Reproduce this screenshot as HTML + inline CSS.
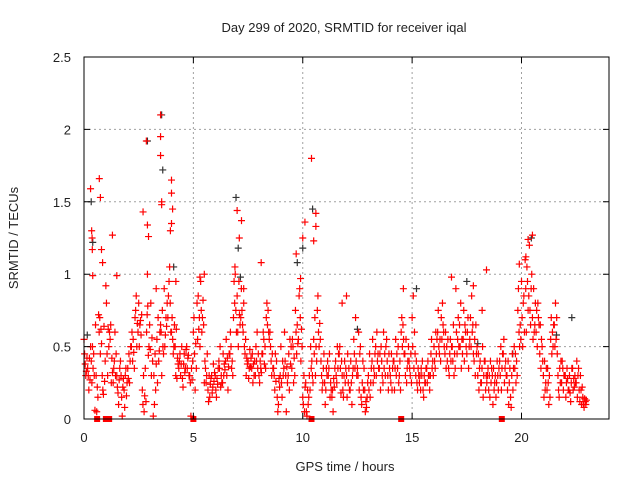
<!DOCTYPE html>
<html><head><meta charset="utf-8"><style>
html,body{margin:0;padding:0;background:#fff;}
svg{display:block;font-family:"Liberation Sans",sans-serif;}
</style></head><body>
<svg id="chart" width="640" height="480" viewBox="0 0 640 480">
<rect width="640" height="480" fill="#fff"/>
<g id="grid"></g>
<g id="black"></g>
<g id="red"></g>
<g id="axes"></g>
<text x="344" y="32" text-anchor="middle" font-size="13" fill="#222">Day 299 of 2020, SRMTID for receiver iqal</text>
<text x="345" y="471" text-anchor="middle" font-size="13" fill="#222">GPS time / hours</text>
<text transform="translate(18,238) rotate(-90)" text-anchor="middle" font-size="13" fill="#222">SRMTID / TECUs</text>
</svg>
<script>
const xTicks=[0,5,10,15,20];
const yTicks=[0,0.5,1,1.5,2,2.5];
const yTickLabels=["0","0.5","1","1.5","2","2.5"];
const binHours=[0,1,2,3,4,5,6,7,8,9,10,11,12,13,14,15,16,17,18,19,20,21,22];
const valsA=[0.55,0.35,0.4,0.06,0.72,0.3, 0.92,0.6,0.25,0.3,0.4,0.2, 0.35,0.5,0.7,0.8,0.2,0.12, 0.65,0.02,0.55,0.65,0.9,0.7, 0.6,0.5,0.35,0.28,0.48,0.3, 0.6,0.8,0.95,0.25,0.2,0.3, 0.3,0.4,0.25,0.55,0.45,0.7, 0.85,0.7,0.5,0.4,0.35,0.3, 0.3,0.45,0.7,0.6,0.35,0.15, 0.5,0.6,0.3,0.35,0.75,0.85, 0.15,0.05,0.2,0.55,0.75,0.4, 0.25,0.3,0.15,0.4,0.45,0.2, 0.3,0.2,0.55,0.35,0.15,0.2, 0.3,0.4,0.5,0.35,0.25,0.55, 0.3,0.4,0.35,0.6,0.45,0.5, 0.7,0.3,0.25,0.2,0.35,0.3, 0.5,0.6,0.7,0.45,0.35,0.5, 0.9,0.65,0.55,0.45,0.7,0.4, 0.3,0.25,0.4,0.2,0.3,0.15, 0.4,0.45,0.3,0.15,0.5,0.75, 0.95,1.1,0.85,0.7,0.6,0.45, 0.3,0.2,0.55,0.65,0.3,0.25, 0.3,0.2,0.35,0.25,0.12,0.1];
const valsB=[0.45,0.3,0.25,0.65,0.6,0.2, 0.8,0.55,0.35,0.22,0.3,0.08, 0.28,0.6,0.75,0.5,0.1,0.6, 0.48,0.3,0.25,0.6,0.5,0.85, 0.7,0.3,0.4,0.22,0.5,0.25, 0.7,0.55,0.75,0.4,0.12,0.18, 0.2,0.35,0.45,0.3,0.6,0.95, 0.6,0.9,0.45,0.28,0.45,0.5, 0.25,0.6,0.8,0.5,0.3,0.05, 0.25,0.4,0.45,0.55,0.6,0.9, 0.1,0.02,0.5,0.45,0.85,0.3, 0.1,0.35,0.2,0.3,0.5,0.15, 0.15,0.4,0.45,0.3,0.1,0.05, 0.2,0.55,0.3,0.45,0.6,0.4, 0.25,0.2,0.5,0.7,0.3,0.4, 0.5,0.4,0.3,0.15,0.25,0.45, 0.4,0.75,0.55,0.6,0.3,0.4, 0.6,0.5,0.75,0.6,0.5,0.55, 0.45,0.35,0.2,0.3,0.1,0.25, 0.3,0.55,0.2,0.08,0.35,0.9, 0.7,0.9,1.2,0.55,0.75,0.65, 0.15,0.35,0.7,0.5,0.2,0.4, 0.15,0.3,0.2,0.4,0.3,0.08];
const valsC=[0.38,0.2,0.5,0.3,0.7,0.17, 0.45,0.65,0.4,0.18,0.15,0.3, 0.45,0.4,0.85,0.65,0.3,0.72, 0.8,0.1,0.7,0.3,0.58,0.95, 0.55,0.62,0.45,0.38,0.35,0.02, 0.45,0.85,0.6,0.35,0.3,0.22, 0.15,0.5,0.3,0.42,0.5,0.8, 0.5,0.75,0.55,0.35,0.25,0.4, 0.4,0.55,0.65,0.4,0.2,0.1, 0.15,0.3,0.2,0.5,0.45,0.7, 0.3,0.2,0.35,0.7,0.6,0.2, 0.2,0.45,0.05,0.25,0.35,0.3, 0.45,0.25,0.35,0.6,0.25,0.12, 0.45,0.25,0.6,0.2,0.35,0.3, 0.45,0.35,0.25,0.5,0.55,0.35, 0.85,0.25,0.2,0.3,0.4,0.55, 0.35,0.5,0.8,0.35,0.45,0.65, 0.45,0.8,0.4,0.7,0.85,0.3, 0.2,0.5,0.3,0.15,0.35,0.4, 0.5,0.25,0.4,0.3,0.45,0.6, 0.5,0.6,0.75,0.9,0.5,0.35, 0.4,0.25,0.45,0.8,0.15,0.35, 0.25,0.18,0.28,0.15,0.2,0.14];
const valsD=[0.3,0.42,0.35,0.05,0.45,0.64, 0.3,0.25,0.6,0.1,0.02,0.35, 0.25,0.55,0.5,0.68,0.05,0.78, 0.3,0.45,0.4,0.75,0.7,1.05, 0.45,0.28,0.3,0.45,0.42,0.35, 0.2,0.62,0.7,0.25,0.15,0.38, 0.28,0.22,0.38,0.2,0.35,1.0, 0.95,0.65,0.3,0.48,0.38,0.6, 0.35,0.38,0.75,0.3,0.45,0.28, 0.4,0.05,0.55,0.25,0.65,0.4, 0.05,0.1,0.4,0.3,0.5,0.25, 0.35,0.15,0.28,0.5,0.18,0.4, 0.25,0.1,0.7,0.2,0.4,0.08, 0.15,0.35,0.4,0.5,0.45,0.2, 0.2,0.55,0.3,0.65,0.25,0.3, 0.35,0.2,0.35,0.25,0.3,0.35, 0.6,0.45,0.65,0.5,0.55,0.3, 0.55,0.35,0.65,0.35,0.6,0.65, 0.35,0.15,0.25,0.4,0.2,0.3, 0.2,0.35,0.1,0.45,0.25,0.5, 0.8,1.05,0.65,0.6,0.8,0.55, 0.2,0.1,0.6,0.55,0.35,0.2, 0.35,0.12,0.22,0.3,0.1,0.12];
const valsE=[0.33,0.27,0.45,0.22,0.62,0.26, 0.62,0.42,0.3,0.27,0.22,0.16, 0.4,0.46,0.66,0.58,0.16,0.44, 0.56,0.2,0.47,0.5,0.64,0.8, 0.5,0.42,0.38,0.32,0.44,0.27, 0.52,0.7,0.82,0.3,0.24,0.26, 0.24,0.3,0.34,0.36,0.4,0.75, 0.72,0.6,0.42,0.36,0.3,0.35, 0.32,0.5,0.6,0.45,0.26,0.22, 0.3,0.36,0.38,0.42,0.52,0.62, 0.22,0.15,0.3,0.5,0.66,0.35, 0.3,0.25,0.22,0.35,0.4,0.25, 0.35,0.3,0.4,0.45,0.2,0.15, 0.25,0.3,0.45,0.4,0.3,0.45, 0.35,0.3,0.4,0.55,0.35,0.45, 0.6,0.35,0.3,0.25,0.3,0.4, 0.45,0.55,0.6,0.4,0.4,0.45, 0.7,0.55,0.6,0.5,0.65,0.45, 0.4,0.3,0.3,0.25,0.25,0.2, 0.35,0.4,0.25,0.2,0.4,0.65, 0.85,0.95,0.9,0.65,0.7,0.5, 0.25,0.3,0.5,0.7,0.25,0.3, 0.28,0.25,0.3,0.35,0.22,0.1];
const valsF=[0.42,0.5,0.3,0.15,0.52,0.4, 0.5,0.32,0.45,0.35,0.28,0.25, 0.5,0.35,0.6,0.72,0.35,0.5, 0.4,0.38,0.6,0.45,0.8,0.6, 0.65,0.38,0.5,0.35,0.3,0.4, 0.35,0.5,0.65,0.45,0.28,0.32, 0.35,0.25,0.4,0.45,0.3,0.6, 0.65,0.8,0.38,0.42,0.4,0.45, 0.45,0.35,0.55,0.35,0.4,0.3, 0.35,0.25,0.5,0.3,0.55,0.5, 0.25,0.3,0.25,0.4,0.55,0.45, 0.4,0.2,0.35,0.45,0.3,0.35, 0.2,0.35,0.3,0.5,0.35,0.25, 0.35,0.45,0.35,0.3,0.5,0.35, 0.4,0.45,0.2,0.45,0.4,0.25, 0.45,0.3,0.4,0.35,0.2,0.3, 0.55,0.4,0.5,0.55,0.5,0.35, 0.5,0.45,0.5,0.55,0.45,0.5, 0.25,0.4,0.35,0.35,0.3,0.35, 0.45,0.3,0.35,0.35,0.3,0.55, 0.6,0.75,1.0,0.8,0.65,0.4, 0.35,0.15,0.65,0.45,0.4,0.3, 0.2,0.35,0.25,0.2,0.15,0.13];
const spikeTimes=[0.3,0.35,0.37,0.38,0.7,0.75,0.8,0.85,1.3,2.7,2.85,2.9,2.95,3.5,3.5,3.5,3.55,3.55,4.0,4.0,4.05,4.0,3.95,7.0,7.2,7.1,6.9,9.7,10.4,10.1,10.6,10.6,10.0,10.5,18.4,20.5,20.3,20.2,19.9,2.9,5.5,8.1,11.8,12.0,0.4,1.5,3.3,4.2,5.3,7.3,9.9,14.6,16.8,17.8,18.2];
const spikeVals=[1.59,1.3,1.25,1.17,1.66,1.53,1.17,1.08,1.27,1.43,1.92,1.34,1.26,2.1,1.95,1.82,1.5,1.48,1.65,1.56,1.45,1.35,1.3,1.44,1.37,1.25,1.05,1.14,1.8,1.36,1.42,1.33,1.25,1.23,1.03,1.27,1.24,1.12,1.07,1.0,1.0,1.08,0.8,0.85,0.99,0.99,0.9,0.95,0.98,0.9,0.97,0.9,0.98,0.92,0.75];
const blackTimes=[0.15,0.33,0.4,2.9,3.55,3.6,4.1,6.95,7.05,7.15,9.75,10.0,10.45,12.5,15.2,17.5,18.0,19.6,20.45,21.6,22.3];
const blackVals=[0.58,1.5,1.22,1.92,2.1,1.72,1.05,1.53,1.18,0.98,1.08,1.18,1.45,0.62,0.9,0.95,0.52,0.45,1.25,0.58,0.7];
const zeroMarkTimes=[0.6,1.0,1.15,5.0,10.4,14.5,19.1];

const X0=84,X1=609,Y0=419,Y1=57,XMAX=24,YMAX=2.5;
const sx=t=>X0+(X1-X0)*t/XMAX;
const sy=v=>Y0-(Y0-Y1)*v/YMAX;
const NS="http://www.w3.org/2000/svg";
function mk(tag,parent){const e=document.createElementNS(NS,tag);parent.appendChild(e);return e;}
const grid=document.getElementById('grid'),axes=document.getElementById('axes');
const red=document.getElementById('red'),black=document.getElementById('black');

xTicks.forEach(t=>{
  if(t>0){const l=mk('line',grid);
    
    
    l.setAttribute('x1',sx(t));l.setAttribute('x2',sx(t));l.setAttribute('y1',Y1);l.setAttribute('y2',Y0);
    l.setAttribute('stroke','#a0a0a0');l.setAttribute('stroke-dasharray','2,3');}
  const tk=mk('path',axes);
  
  
  tk.setAttribute('d',`M${sx(t)},${Y0}v-6M${sx(t)},${Y1}v6`);tk.setAttribute('stroke','#000');
  const tx=mk('text',axes);
  
  
  tx.setAttribute('x',sx(t));tx.setAttribute('y',442);tx.setAttribute('text-anchor','middle');
  tx.setAttribute('font-size','13');tx.setAttribute('fill','#222');tx.textContent=t;
});
yTicks.forEach((v,i)=>{
  if(v>0&&v<YMAX){const l=mk('line',grid);
    
    
    l.setAttribute('x1',X0);l.setAttribute('x2',X1);l.setAttribute('y1',sy(v));l.setAttribute('y2',sy(v));
    l.setAttribute('stroke','#a0a0a0');l.setAttribute('stroke-dasharray','2,3');}
  const tk=mk('path',axes);
  
  
  tk.setAttribute('d',`M${X0},${sy(v)}h6M${X1},${sy(v)}h-6`);tk.setAttribute('stroke','#000');
  const tx=mk('text',axes);
  
  
  tx.setAttribute('x',71);tx.setAttribute('y',sy(v)+5);tx.setAttribute('text-anchor','end');
  tx.setAttribute('font-size','13');tx.setAttribute('fill','#222');tx.textContent=yTickLabels[i];
});
const box=mk('rect',axes);


box.setAttribute('x',X0);box.setAttribute('y',Y1);box.setAttribute('width',X1-X0);box.setAttribute('height',Y0-Y1);
box.setAttribute('fill','none');box.setAttribute('stroke','#000');

function plus(parent,t,v,color,name){
  const p=mk('path',parent);
  
  
  const x=sx(t),y=sy(v);
  p.setAttribute('d',`M${x-3.5},${y}h7M${x},${y-3.5}v7`);
  p.setAttribute('stroke',color);p.setAttribute('stroke-width','1.2');
}
blackTimes.forEach((t,i)=>plus(black,t,blackVals[i],'#333','black-point'));
[valsA,valsB,valsC,valsD,valsE,valsF].forEach((arr,k)=>{
  arr.forEach((v,i)=>{
    const h=binHours[Math.floor(i/6)];
    const t=h+(i%6)/6+k*0.027;
    plus(red,t,v,'#ff0000','red-point');
  });
});
spikeTimes.forEach((t,i)=>plus(red,t,spikeVals[i],'#ff0000','red-spike-point'));
zeroMarkTimes.forEach(t=>{
  const r=mk('rect',red);
  
  
  r.setAttribute('x',sx(t)-3);r.setAttribute('y',Y0-3);r.setAttribute('width',6);r.setAttribute('height',6);
  r.setAttribute('fill','#ff0000');
});
</script>
</body></html>
